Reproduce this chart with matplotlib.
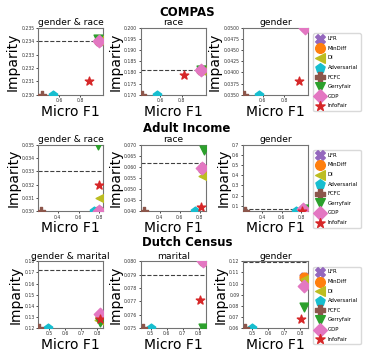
import numpy as np
import matplotlib
matplotlib.use("Agg")
import matplotlib.pyplot as plt

# methods, markers, colours
methods = ["LFR", "MinDiff", "DI", "Adversarial", "FCFC", "Gerryfair", "GDP", "InfoFair"]
markers = ["X", "o", "<", "p", "P", "v", "D", "*"]
colors = ["tab:purple", "tab:orange", "tab:olive", "tab:cyan", "tab:brown", "tab:green", "tab:pink", "tab:red"]

datasets = ["COMPAS", "Adult Income", "Dutch Census"]
attributes = [["gender & race", "race", "gender"],
              ["gender & race", "race", "gender"],
              ["gender & marital", "marital", "gender"]]

# micro F1 per method (order as in methods)
compas_gr_f1 = [0.975, 0.975, 0.975, 0.545, 0.435, 0.970, 0.977, 0.880]
compas_gr_imp = [0.2340, 0.2340, 0.2341, 0.2300, 0.2300, 0.2342, 0.2340, 0.2310]
compas_r_f1 = [0.975, 0.975, 0.975, 0.570, 0.430, 0.975, 0.978, 0.823]
compas_r_imp = [0.181, 0.181, 0.181, 0.170, 0.170, 0.181, 0.181, 0.179]
compas_g_f1 = [0.990, 0.990, 0.990, 0.570, 0.430, 0.990, 0.994, 0.940]
compas_g_imp = [0.0502, 0.0502, 0.0502, 0.0350, 0.0350, 0.0502, 0.0500, 0.0380]

adult_gr_f1 = [0.800, 0.800, 0.810, 0.750, 0.235, 0.785, 0.800, 0.800]
adult_gr_imp = [0.0300, 0.0300, 0.0310, 0.0300, 0.0300, 0.0350, 0.0300, 0.0320]
adult_r_f1 = [0.830, 0.830, 0.835, 0.750, 0.240, 0.840, 0.827, 0.810]
adult_r_imp = [0.0590, 0.0590, 0.0558, 0.0400, 0.0400, 0.0677, 0.0593, 0.0418]
adult_g_f1 = [0.820, 0.820, 0.840, 0.750, 0.230, 0.850, 0.820, 0.810]
adult_g_imp = [0.060, 0.060, 0.060, 0.050, 0.050, 0.070, 0.070, 0.052]

dutch_gm_f1 = [0.820, 0.820, 0.815, 0.490, 0.435, 0.820, 0.820, 0.820]
dutch_gm_imp = [0.131, 0.130, 0.127, 0.120, 0.120, 0.125, 0.133, 0.128]
dutch_m_f1 = [0.823, 0.823, 0.823, 0.500, 0.450, 0.823, 0.823, 0.810]
dutch_m_imp = [0.0800, 0.0800, 0.0800, 0.0750, 0.0750, 0.0750, 0.0800, 0.0771]
dutch_g_f1 = [0.825, 0.825, 0.830, 0.500, 0.458, 0.825, 0.825, 0.806]
dutch_g_imp = [0.1060, 0.1059, 0.1044, 0.0600, 0.0600, 0.0789, 0.0975, 0.0684]

# dashed reference line (imparity of vanilla model)
thresholds = [[0.234, 0.181, 0.0510],
              [0.033, 0.0619, 0.068],
              [0.1722, 0.0790, 0.1197]]

f1 = [[compas_gr_f1, compas_r_f1, compas_g_f1],
      [adult_gr_f1, adult_r_f1, adult_g_f1],
      [dutch_gm_f1, dutch_m_f1, dutch_g_f1]]
imp = [[compas_gr_imp, compas_r_imp, compas_g_imp],
       [adult_gr_imp, adult_r_imp, adult_g_imp],
       [dutch_gm_imp, dutch_m_imp, dutch_g_imp]]

xlims = [[(0.40, 1.02), (0.42, 1.02), (0.42, 1.02)],
         [(0.21, 0.84), (0.21, 0.86), (0.205, 0.87)],
         [(0.43, 0.84), (0.436, 0.843), (0.444, 0.848)]]
ylims = [[(0.230, 0.235), (0.170, 0.200), (0.035, 0.050)],
         [(0.030, 0.035), (0.04, 0.07), (0.045, 0.70)],
         [(0.12, 0.18), (0.075, 0.080), (0.06, 0.12)]]
xticks = [[[0.6, 0.8]] * 3,
          [[0.4, 0.6, 0.8]] * 3,
          [[0.5, 0.6, 0.7, 0.8]] * 3]

fig, axes = plt.subplots(3, 3, figsize=(3.74, 3.55), dpi=100)
plt.subplots_adjust(left=0.102, right=0.824, top=0.921, bottom=0.076, wspace=0.57, hspace=0.75)

for i in range(3):
    for j in range(3):
        ax = axes[i, j]
        for k, m in enumerate(methods):
            ax.scatter(f1[i][j][k], imp[i][j][k], marker=markers[k], color=colors[k], s=40, label=m, zorder=3)
        ax.axhline(thresholds[i][j], color="k", ls="--", lw=0.8, alpha=0.75)
        ax.set_xlim(*xlims[i][j])
        ax.set_ylim(*ylims[i][j])
        ax.set_xticks(xticks[i][j])
        ax.tick_params(labelsize=3.3, length=1.5, width=0.5, pad=1, labelcolor="0.2")
        ax.set_title(attributes[i][j], fontsize=6.6, pad=2)
        ax.set_xlabel("Micro F1", fontsize=10, labelpad=1)
        ax.set_ylabel("Imparity", fontsize=10, labelpad=1)
        for sp in ax.spines.values():
            sp.set_color("0.45")
            sp.set_linewidth(0.8)
    axes[i, 2].legend(loc="upper left", bbox_to_anchor=(1.04, 0.96), fontsize=3.9, markerscale=1.1,
                      handletextpad=0.6, labelspacing=0.85, borderpad=0.5, framealpha=1, edgecolor="0.85",
                      handlelength=1.5)

ys = [1 - 12 / 355, 1 - 128 / 355, 1 - 243 / 355]
for name, y in zip(datasets, ys):
    fig.text(0.5, y, name, ha="center", va="center", fontsize=8.5, fontweight="bold")

plt.savefig("out.png", dpi=100)
